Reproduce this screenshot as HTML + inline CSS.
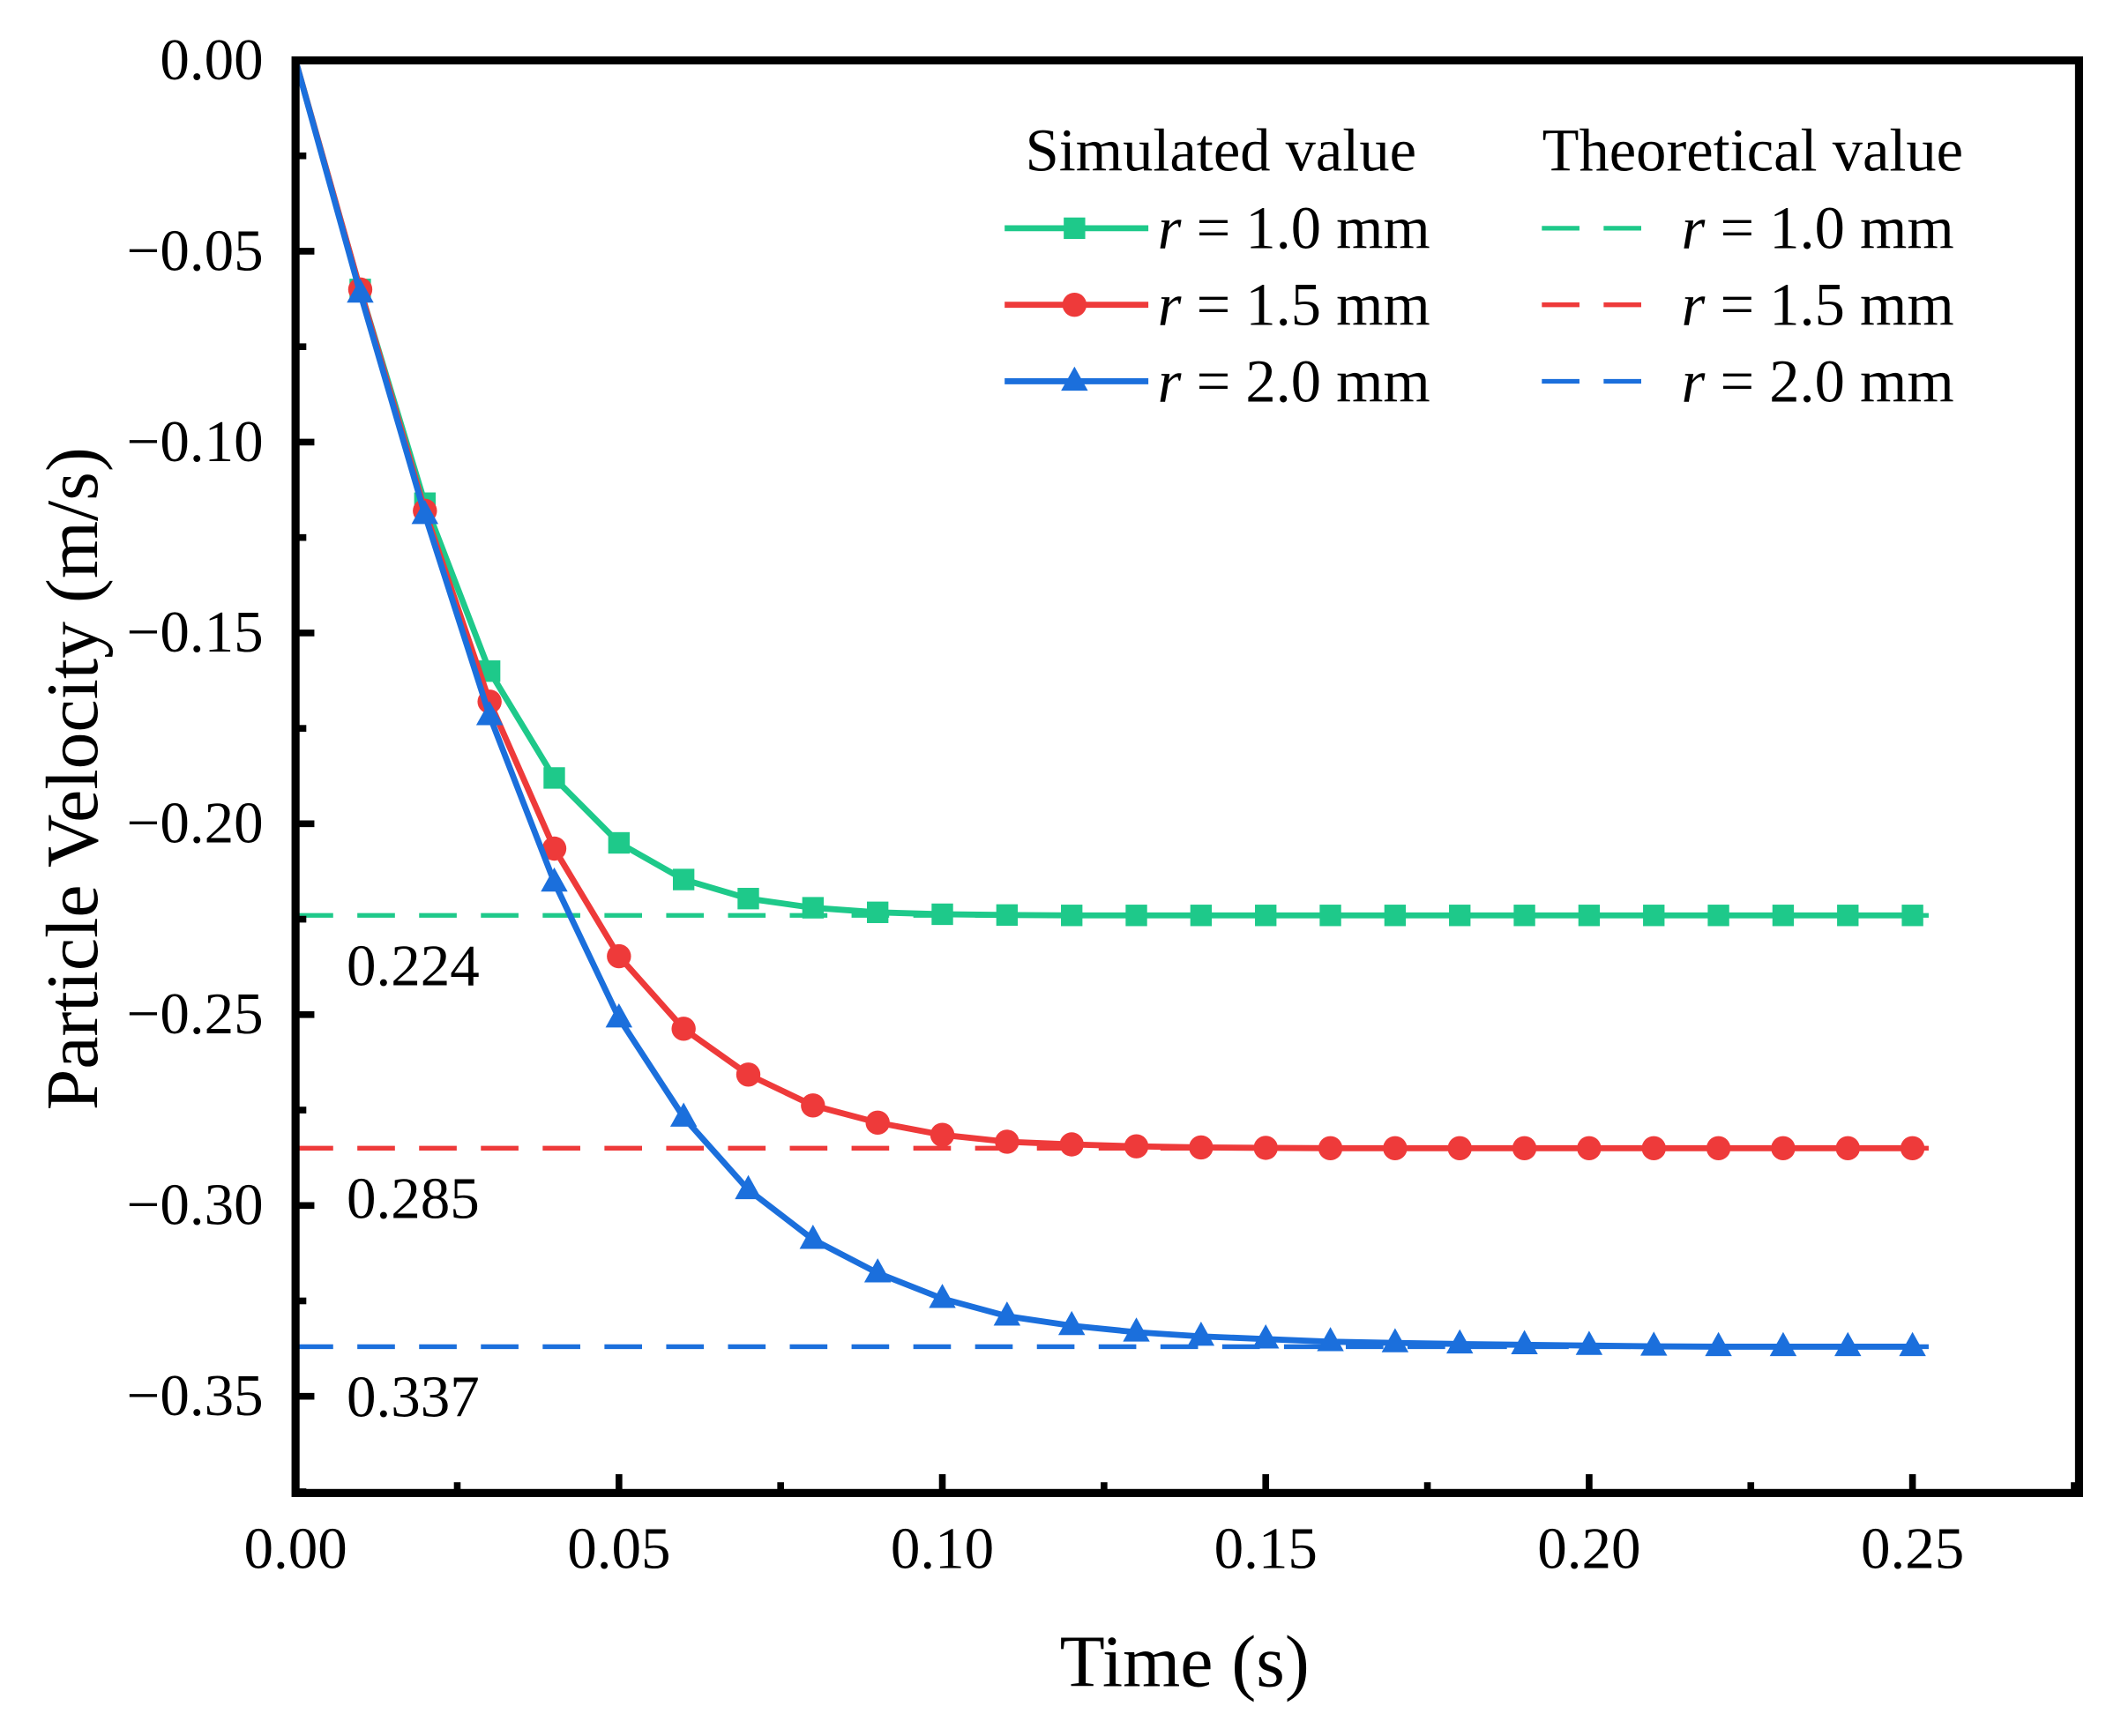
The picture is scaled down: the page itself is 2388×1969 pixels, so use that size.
<!DOCTYPE html>
<html><head><meta charset="utf-8"><style>html,body{margin:0;padding:0;background:#fff}svg{display:block}</style></head>
<body>
<svg id="chart" width="2388" height="1969" viewBox="0 0 1568 1293" xmlns="http://www.w3.org/2000/svg" font-family="Liberation Serif, serif">
<g id="plot"></g>
</svg>
<script>
const times=[0,0.01,0.02,0.03,0.04,0.05,0.06,0.07,0.08,0.09,0.10,0.11,0.12,0.13,0.14,0.15,0.16,0.17,0.18,0.19,0.20,0.21,0.22,0.23,0.24,0.25];
const sim10=[0,-0.060,-0.116,-0.160,-0.188,-0.205,-0.2146,-0.2196,-0.222,-0.2232,-0.2237,-0.2239,-0.224,-0.224,-0.224,-0.224,-0.224,-0.224,-0.224,-0.224,-0.224,-0.224,-0.224,-0.224,-0.224,-0.224];
const sim15=[0,-0.060,-0.118,-0.168,-0.2065,-0.2347,-0.2537,-0.2657,-0.2738,-0.2783,-0.2815,-0.2833,-0.284,-0.2845,-0.2848,-0.2849,-0.285,-0.285,-0.285,-0.285,-0.285,-0.285,-0.285,-0.285,-0.285,-0.285];
const sim20=[0,-0.061,-0.119,-0.1717,-0.2153,-0.2509,-0.2769,-0.2959,-0.3089,-0.3177,-0.3244,-0.329,-0.3315,-0.3332,-0.3343,-0.335,-0.3357,-0.336,-0.3363,-0.3365,-0.3367,-0.3369,-0.337,-0.337,-0.337,-0.337];
const theory=[-0.224,-0.285,-0.337];
const theoryLabels=["0.224","0.285","0.337"];
const xTicks=[0,0.05,0.10,0.15,0.20,0.25];
const xTickLabels=["0.00","0.05","0.10","0.15","0.20","0.25"];
const yTicks=[0,-0.05,-0.10,-0.15,-0.20,-0.25,-0.30,-0.35];
const yTickLabels=["0.00","\u22120.05","\u22120.10","\u22120.15","\u22120.20","\u22120.25","\u22120.30","\u22120.35"];
const seriesNames=["r = 1.0 mm","r = 1.5 mm","r = 2.0 mm"];

const NS="http://www.w3.org/2000/svg";
const g=document.getElementById('plot');
const L=220,R=1548,T=45,B=1112;
const X=v=>220+v*(1424-220)/0.25;
const Y=v=>45+(-v)*(1040-45)/0.35;
const colors=["#1ec98a","#ee3a3a","#1b6fdc"];
function mk(tag,attrs){const e=document.createElementNS(NS,tag);for(const k in attrs)e.setAttribute(k,attrs[k]);g.appendChild(e);return e;}
function txt(s,x,y,size,anchor){const e=mk('text',{x:x,y:y,'font-size':size,'text-anchor':anchor||'start',fill:'#000'});e.textContent=s;return e;}

theory.forEach((v,i)=>{
 const l=mk('line',{x1:L,x2:X(0.2525),y1:Y(v),y2:Y(v),stroke:colors[i],'stroke-width':3.5,'stroke-dasharray':'28 18'});
 
 
 const t=txt(theoryLabels[i],258,Y(v)+52,44);
 
 
});

function marker(type,x,y,c){
 let e;
 if(type===0)e=mk('rect',{x:x-8,y:y-8,width:16,height:16,fill:c});
 else if(type===1)e=mk('circle',{cx:x,cy:y,r:9,fill:c});
 else e=mk('polygon',{points:`${x},${y-11} ${x-10},${y+7} ${x+10},${y+7}`,fill:c});
 return e;
}
[sim10,sim15,sim20].forEach((arr,si)=>{
 const pts=arr.map((v,i)=>X(times[i])+','+Y(v)).join(' ');
 const pl=mk('polyline',{points:pts,fill:'none',stroke:colors[si],'stroke-width':4.5});
 
 
 arr.forEach((v,i)=>{
  if(i===0)return;
  const m=marker(si,X(times[i]),Y(v),colors[si]);
  
  
 });
});

const fr=mk('rect',{x:L,y:T,width:R-L,height:B-T,fill:'none',stroke:'#000','stroke-width':6});



for(let v=0;v<=0.2751;v+=0.025){
 const major=Math.abs(v/0.05-Math.round(v/0.05))<1e-6;
 const t=mk('line',{x1:X(v),x2:X(v),y1:B,y2:B-(major?14:8),stroke:'#000','stroke-width':5});
 
 
}
xTicks.forEach((v,i)=>{const t=txt(xTickLabels[i],X(v),1168,44,'middle');
 
 });
for(let v=0;v<=0.3751;v+=0.025){
 const major=Math.abs(v/0.05-Math.round(v/0.05))<1e-6;
 const t=mk('line',{x1:L,x2:L+(major?14:8),y1:Y(-v),y2:Y(-v),stroke:'#000','stroke-width':5});
 
 
}
yTicks.forEach((v,i)=>{const t=txt(yTickLabels[i],196,Y(v)+14,44,'end');
 
 });

const xt=txt("Time (s)",882,1256,55,'middle');


const yt=txt("Particle Velocity (m/s)",0,0,55,'middle');
yt.setAttribute('transform','translate(72,580) rotate(-90)');



const h1=txt("Simulated value",909,127,45,'middle');


const h2=txt("Theoretical value",1305,127,45,'middle');


seriesNames.forEach((n,i)=>{
 const y=170+i*57;
 const l=mk('line',{x1:748,x2:855,y1:y,y2:y,stroke:colors[i],'stroke-width':4.5});
 
 
 const m=marker(i,800,y,colors[i]);
 
 
 const d=mk('line',{x1:1148,x2:1240,y1:y,y2:y,stroke:colors[i],'stroke-width':3.5,'stroke-dasharray':'28 18'});
 
 
 [862,1252].forEach(x0=>{
  const t=mk('text',{x:x0,y:y+15,'font-size':45,fill:'#000'});
  t.innerHTML='<tspan font-style="italic">r</tspan>'+n.slice(1);
  
  
 });
});
</script>
</body></html>
